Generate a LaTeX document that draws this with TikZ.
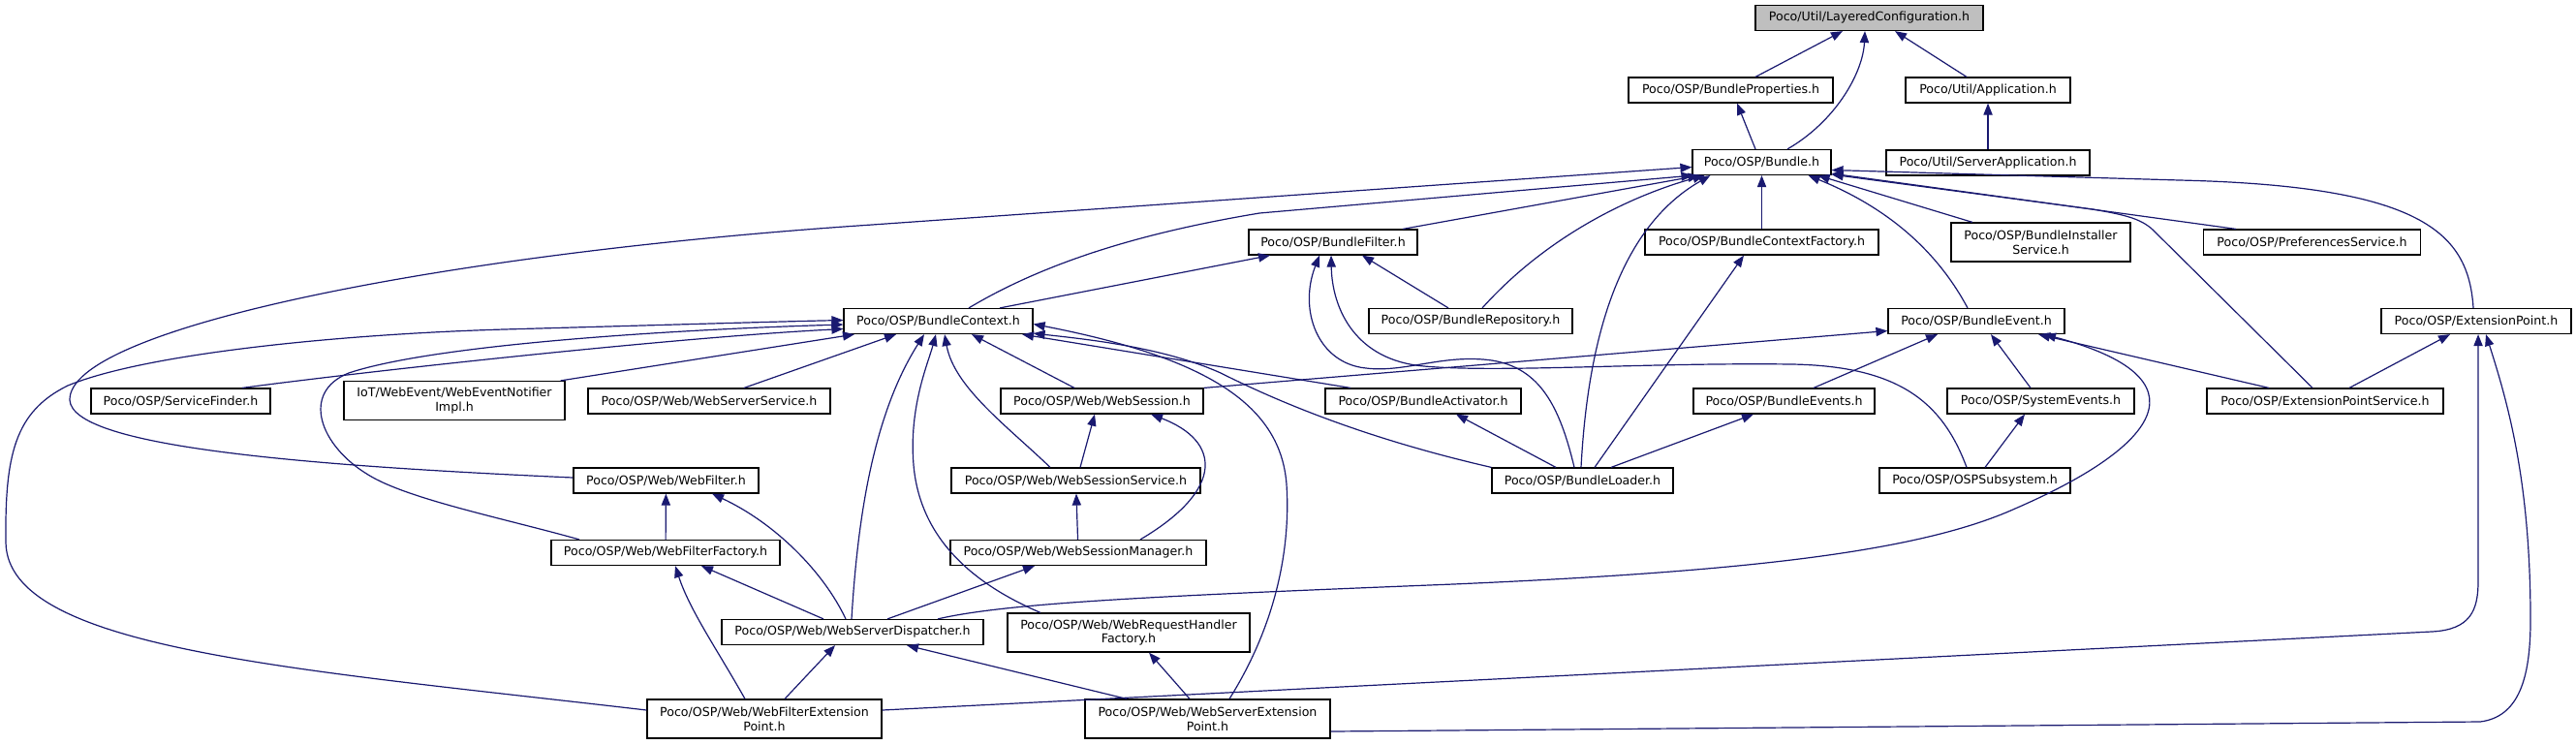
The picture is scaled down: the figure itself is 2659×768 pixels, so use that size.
\documentclass[tikz,border=0pt]{standalone}
\usepackage{fontspec}
\setmainfont{DejaVu Sans}
\usetikzlibrary{arrows.meta,calc}
\definecolor{edgeblue}{RGB}{25,25,112}
\definecolor{lcgray}{RGB}{191,191,191}
\begin{document}
\begin{tikzpicture}[x=0.5pt,y=-0.5pt,
  box/.style={draw=black,fill=white,line width=0.6pt,inner sep=0pt,minimum height=13pt,align=center,font=\fontsize{6.3}{7.3}\selectfont},
  tall/.style={minimum height=20pt},
  edge/.style={draw=edgeblue,line width=0.6pt,-{Triangle[length=6pt,width=4.6pt]}}]
\fill[white] (0,0) rectangle (2659,768);
\useasboundingbox (0,0) rectangle (2659,768);
% nodes
\node[box,minimum width=117.5pt,fill=lcgray] (LC) at (1929.5,18.5) {Poco/Util/LayeredConfiguration.h};
\node[box,minimum width=105.5pt] (BP) at (1786.5,93) {Poco/OSP/BundleProperties.h};
\node[box,minimum width=85pt] (APP) at (2052,93) {Poco/Util/Application.h};
\node[box,minimum width=71.5pt] (B) at (1818.5,167.5) {Poco/OSP/Bundle.h};
\node[box,minimum width=105pt] (SA) at (2052,168) {Poco/Util/ServerApplication.h};
\node[box,minimum width=87pt] (BF) at (1376,250) {Poco/OSP/BundleFilter.h};
\node[box,minimum width=120.5pt] (BCF) at (1818.5,250) {Poco/OSP/BundleContextFactory.h};
\node[box,tall,minimum width=92.5pt] (BIS) at (2106.5,250) {Poco/OSP/BundleInstaller\\Service.h};
\node[box,minimum width=112pt] (PS) at (2386.5,250) {Poco/OSP/PreferencesService.h};
\node[box,minimum width=97.5pt] (BC) at (968.5,331.5) {Poco/OSP/BundleContext.h};
\node[box,minimum width=105pt] (BR) at (1518,331.5) {Poco/OSP/BundleRepository.h};
\node[box,minimum width=91pt] (BE) at (2040,331.5) {Poco/OSP/BundleEvent.h};
\node[box,minimum width=98pt] (EP) at (2556,331.5) {Poco/OSP/ExtensionPoint.h};
\node[box,minimum width=92.5pt] (SF) at (186.5,414) {Poco/OSP/ServiceFinder.h};
\node[box,tall,minimum width=114pt] (WEN) at (469,413.5) {IoT/WebEvent/WebEventNotifier\\Impl.h};
\node[box,minimum width=125pt] (WSS) at (732,414) {Poco/OSP/Web/WebServerService.h};
\node[box,minimum width=104.5pt] (WS) at (1137.5,414) {Poco/OSP/Web/WebSession.h};
\node[box,minimum width=101pt] (BA) at (1469,414) {Poco/OSP/BundleActivator.h};
\node[box,minimum width=93.5pt] (BEs) at (1841.5,414) {Poco/OSP/BundleEvents.h};
\node[box,minimum width=96.5pt] (SE) at (2106.5,414) {Poco/OSP/SystemEvents.h};
\node[box,minimum width=122pt] (EPS) at (2400,414) {Poco/OSP/ExtensionPointService.h};
\node[box,minimum width=95.5pt] (WF) at (687.5,496) {Poco/OSP/Web/WebFilter.h};
\node[box,minimum width=128.5pt] (WSSvc) at (1110.5,496) {Poco/OSP/Web/WebSessionService.h};
\node[box,minimum width=93.5pt] (BL) at (1633.5,496) {Poco/OSP/BundleLoader.h};
\node[box,minimum width=98.5pt] (OSPS) at (2038.5,496) {Poco/OSP/OSPSubsystem.h};
\node[box,minimum width=118pt] (WFF) at (687,570.5) {Poco/OSP/Web/WebFilterFactory.h};
\node[box,minimum width=132pt] (WSM) at (1113,570.5) {Poco/OSP/Web/WebSessionManager.h};
\node[box,minimum width=135pt] (WSD) at (880,652.5) {Poco/OSP/Web/WebServerDispatcher.h};
\node[box,tall,minimum width=125pt] (WRHF) at (1165,653) {Poco/OSP/Web/WebRequestHandler\\Factory.h};
\node[box,tall,minimum width=121pt] (WFEP) at (789,742) {Poco/OSP/Web/WebFilterExtension\\Point.h};
\node[box,tall,minimum width=126.5pt] (WSEP) at (1246.5,742) {Poco/OSP/Web/WebServerExtension\\Point.h};
% edges to LayeredConfiguration
\draw[edge] ($(BP.north)+(25.5,0)$) -- ($(LC.south)+(-27.5,0)$);
\draw[edge] ($(B.north)+(26.5,0)$) .. controls (1895,125) and (1923,75) .. ($(LC.south)+(-4.5,0)$);
\draw[edge] ($(APP.north)+(-22,0)$) -- ($(LC.south)+(26.5,0)$);
\draw[edge] ($(B.north)+(-6.5,0)$) -- ($(BP.south)+(6.5,0)$);
\draw[edge] (SA) -- (APP);
% edges to Bundle
\draw[edge] ($(EP.north)+(-3,0)$) .. controls (2548,240) and (2500,192) .. (2250,186) -- ($(B.east)+(0,8)$);
\draw[edge] ($(BF.north)+(72,0)$) -- ($(B.south west)+(8,0)$);
\draw[edge] (BCF.north) -- (B.south);
\draw[edge] ($(BIS.north)+(-70.5,0)$) -- ($(B.south east)+(-14,0)$);
\draw[edge] ($(PS.north)+(-78.5,0)$) -- ($(B.south east)+(0,-2)$);
\draw[edge] ($(BC.north)+(31.5,0)$) .. controls (1080,270) and (1180,240) .. (1300,220) -- ($(B.south west)+(1,0)$);
\draw[edge] ($(BR.north)+(12,0)$) .. controls (1600,240) and (1690,200) .. ($(B.south west)+(13,0)$);
\draw[edge] ($(BE.north)+(-9,0)$) .. controls (2000,260) and (1950,215) .. ($(B.south east)+(-24,0)$);
\draw[edge] ($(EPS.north)+(-13,0)$) -- (2225,240) .. controls (2212,226) and (2195,222) .. (2160,216) -- ($(B.south east)+(0,-1)$);
\draw[edge] ($(BL.north)+(-1.5,0)$) .. controls (1640,330) and (1680,230) .. ($(B.south west)+(19,0)$);
\draw[edge] ($(WF.west)+(0,-3)$) .. controls (300,480) and (75,460) .. (72,413) .. controls (70,340) and (450,262) .. (900,232) -- ($(B.west)+(0,5)$);
% edges to BundleFilter
\draw[edge] ($(BC.north)+(63.5,0)$) -- ($(BF.south)+(-65,0)$);
\draw[edge] ($(BR.north)+(-23,0)$) -- ($(BF.south)+(30,0)$);
\draw[edge] ($(BL.north)+(-8.5,0)$) .. controls (1610,420) and (1590,380) .. (1540,372) .. controls (1490,365) and (1450,385) .. (1410,380) .. controls (1360,375) and (1340,320) .. ($(BF.south)+(-14,0)$);
\draw[edge] ($(OSPS.north)+(-8.5,0)$) .. controls (2005,415) and (1960,378) .. (1850,376) .. controls (1700,374) and (1550,385) .. (1470,378) .. controls (1400,372) and (1375,320) .. ($(BF.south)+(-2,0)$);
% BundleContextFactory
\draw[edge] ($(BL.north)+(12.5,0)$) -- ($(BCF.south)+(-18.5,0)$);
% edges to BundleContext
\draw[edge] ($(SF.north)+(63.5,0)$) .. controls (380,383) and (700,348) .. ($(BC.west)+(0,8)$);
\draw[edge] ($(WEN.north east)+(-5,0)$) -- ($(BC.south)+(-86.5,0)$);
\draw[edge] ($(WSS.north)+(36,0)$) -- ($(BC.south)+(-43.5,0)$);
\draw[edge] ($(WS.north)+(-28.5,0)$) -- ($(BC.south)+(34.5,0)$);
\draw[edge] ($(BA.north)+(-75,0)$) -- ($(BC.south)+(86.5,0)$);
\draw[edge] ($(WSSvc.north)+(-26.5,0)$) .. controls (1040,440) and (985,400) .. ($(BC.south)+(6.5,0)$);
\draw[edge] ($(WFF.north)+(-89,0)$) .. controls (520,535) and (420,515) .. (380,490) .. controls (330,460) and (310,405) .. (360,385) .. controls (450,355) and (700,340) .. ($(BC.west)+(0,3.5)$);
\draw[edge] ($(WSD.north)+(-1,0)$) .. controls (885,540) and (900,430) .. ($(BC.south)+(-14.5,0)$);
\draw[edge] ($(WRHF.north)+(-91,0)$) .. controls (1010,605) and (950,560) .. (943,480) .. controls (938,420) and (958,375) .. ($(BC.south)+(-2.5,0)$);
\draw[edge] (BL.north west) .. controls (1420,455) and (1330,420) .. (1260,385) .. controls (1200,358) and (1120,350) .. ($(BC.south east)+(0,-1)$);
\draw[edge] ($(WSEP.north)+(22.5,0)$) .. controls (1320,640) and (1332,560) .. (1328,500) .. controls (1322,420) and (1250,370) .. ($(BC.east)+(0,3)$);
\draw[edge] ($(WFEP.west)+(0,-9)$) .. controls (300,690) and (8,670) .. (6,560) .. controls (5,470) and (15,425) .. (70,398) .. controls (150,365) and (350,345) .. (520,340) .. controls (700,335) and (800,332) .. ($(BC.west)+(0,-1)$);
% edges to BundleEvent
\draw[edge] (WS.north east) -- ($(BE.west)+(0,10)$);
\draw[edge] ($(BEs.north)+(30.5,0)$) -- ($(BE.south)+(-40,0)$);
\draw[edge] ($(SE.north)+(-10.5,0)$) -- ($(BE.south)+(15,0)$);
\draw[edge] ($(EPS.north)+(-58,0)$) -- ($(BE.south)+(64,0)$);
\draw[edge] ($(WSD.north)+(88,0)$) .. controls (1040,622) and (1200,615) .. (1500,603) .. controls (1800,590) and (1980,570) .. (2080,525) .. controls (2230,460) and (2280,390) .. ($(BE.south)+(70,0)$);
% edges to ExtensionPoint
\draw[edge] ($(EPS.north)+(25,0)$) -- ($(EP.south)+(-27,0)$);
\draw[edge] ($(WFEP.east)+(0,-9)$) -- (2510,652) .. controls (2550,650) and (2558,630) .. (2558,600) -- ($(EP.south)+(2,0)$);
\draw[edge] ($(WSEP.east)+(0,13)$) -- (2560,745) .. controls (2600,740) and (2612,700) .. (2612,640) .. controls (2612,500) and (2590,420) .. ($(EP.south)+(10,0)$);
% edges to WebSession
\draw[edge] ($(WSSvc.north)+(4.5,0)$) -- ($(WS.south)+(-7.5,0)$);
\draw[edge] ($(WSM.north)+(64,0)$) .. controls (1265,505) and (1260,455) .. ($(WS.south)+(50.5,0)$);
% BundleActivator, BundleEvents, SystemEvents
\draw[edge] ($(BL.north)+(-27.5,0)$) -- ($(BA.south)+(34,0)$);
\draw[edge] ($(BL.north)+(29.5,0)$) -- ($(BEs.south)+(-31.5,0)$);
\draw[edge] ($(OSPS.north)+(10.5,0)$) -- ($(SE.south)+(-16.5,0)$);
% WebFilter
\draw[edge] (WFF) -- (WF);
\draw[edge] ($(WSD.north)+(-7,0)$) .. controls (850,590) and (800,540) .. ($(WF.south)+(47.5,0)$);
% WebSessionService
\draw[edge] (WSM) -- (WSSvc);
% WebFilterFactory
\draw[edge] ($(WSD.north)+(-30,0)$) -- ($(WFF.south)+(37,0)$);
\draw[edge] ($(WFEP.north)+(-20,0)$) .. controls (740,670) and (712,630) .. ($(WFF.south)+(10,0)$);
% WebSessionManager
\draw[edge] ($(WSD.north)+(36,0)$) -- ($(WSM.south)+(-45,0)$);
% WebServerDispatcher
\draw[edge] ($(WFEP.north)+(21,0)$) -- ($(WSD.south)+(-18,0)$);
\draw[edge] ($(WSEP.north)+(-83.5,0)$) -- ($(WSD.south)+(56,0)$);
% WebRequestHandlerFactory
\draw[edge] ($(WSEP.north)+(-18.5,0)$) -- ($(WRHF.south)+(21,0)$);
\end{tikzpicture}
\end{document}
